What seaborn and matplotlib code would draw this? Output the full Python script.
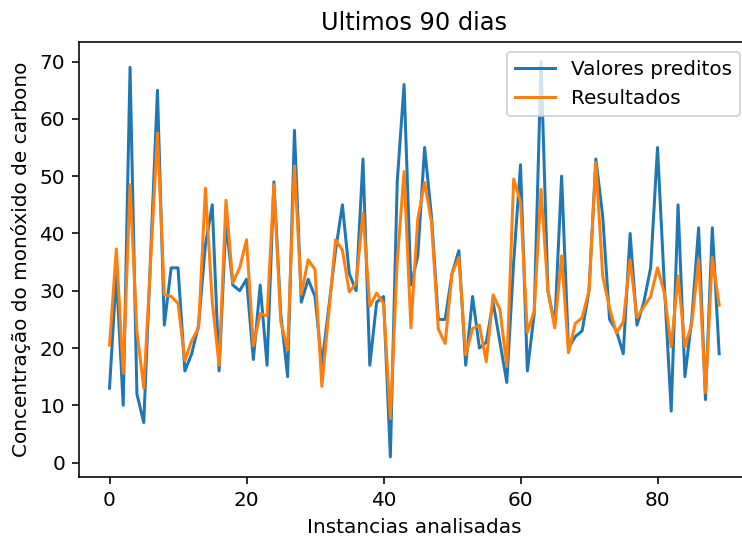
import numpy as np
import pandas as pd
import matplotlib
matplotlib.use("Agg")
import matplotlib.pyplot as plt
import seaborn as sns

title = "Ultimos 90 dias"
xlabel = "Instancias analisadas"
ylabel = "Concentração do monóxido de carbono"
label_pred = "Valores preditos"
label_res = "Resultados"

valores_preditos = [
    13, 33, 10, 69, 12, 7, 36, 65, 24, 34,
    34, 16, 19, 24, 38, 45, 16, 42, 31, 30,
    32, 18, 31, 17, 49, 26, 15, 58, 28, 32,
    29, 17, 27, 37, 45, 33, 30, 53, 17, 28,
    29, 1, 49, 66, 31, 36, 55, 43, 25, 25,
    33, 37, 17, 29, 20, 21, 28, 21, 14, 35,
    52, 16, 26, 70, 30, 24, 50, 20, 22, 23,
    30, 53, 43, 25, 23, 19, 40, 24, 28, 34,
    55, 31, 9, 45, 15, 25, 41, 11, 41, 19,
]

resultados = [
    20.5, 37.3, 15.6, 48.5, 23.0, 13.0, 35.0, 57.5, 29.3, 29.0,
    27.8, 17.8, 21.3, 23.5, 47.9, 28.0, 17.0, 45.8, 31.4, 34.0,
    38.9, 20.4, 26.0, 25.6, 48.5, 24.6, 19.7, 51.8, 29.4, 35.4,
    33.7, 13.3, 26.0, 38.9, 37.1, 29.8, 31.3, 43.6, 27.3, 29.6,
    27.8, 7.7, 35.0, 50.8, 23.5, 42.5, 48.9, 42.0, 23.3, 20.8,
    33.0, 35.8, 18.8, 23.4, 24.0, 17.6, 29.3, 26.7, 16.8, 49.5,
    45.5, 22.7, 26.5, 47.7, 30.0, 23.5, 36.1, 19.2, 24.3, 25.3,
    30.0, 52.4, 32.5, 27.0, 22.6, 24.6, 35.4, 25.3, 27.2, 29.0,
    34.0, 29.6, 20.2, 32.6, 20.2, 24.2, 35.4, 12.2, 35.8, 27.5,
]

instancias = list(range(len(valores_preditos)))

df = pd.DataFrame({
    "x": instancias,
    "pred": valores_preditos,
    "res": resultados,
})

plt.rcParams["font.family"] = ["DejaVu Sans"]

DPI = 144
fig = plt.figure(figsize=(742 / DPI, 537 / DPI), dpi=DPI)
ax = fig.add_axes([0.1065, 0.1123, 0.9038, 0.8099])

sns.lineplot(data=df, x="x", y="pred", ax=ax, color="#1f77b4",
             linewidth=1.5, label=label_pred)
sns.lineplot(data=df, x="x", y="res", ax=ax, color="#ff7f0e",
             linewidth=1.5, label=label_res)

ax.set_title(title, fontsize=12)
ax.set_xlabel(xlabel, fontsize=10)
ax.set_ylabel(ylabel, fontsize=10)
ax.set_xticks([0, 20, 40, 60, 80])
ax.set_yticks([0, 10, 20, 30, 40, 50, 60, 70])
ax.tick_params(labelsize=10)
ax.legend(loc="upper right", fontsize=10)
ax.spines["right"].set_visible(False)

fig.savefig("out.png", dpi=DPI)
